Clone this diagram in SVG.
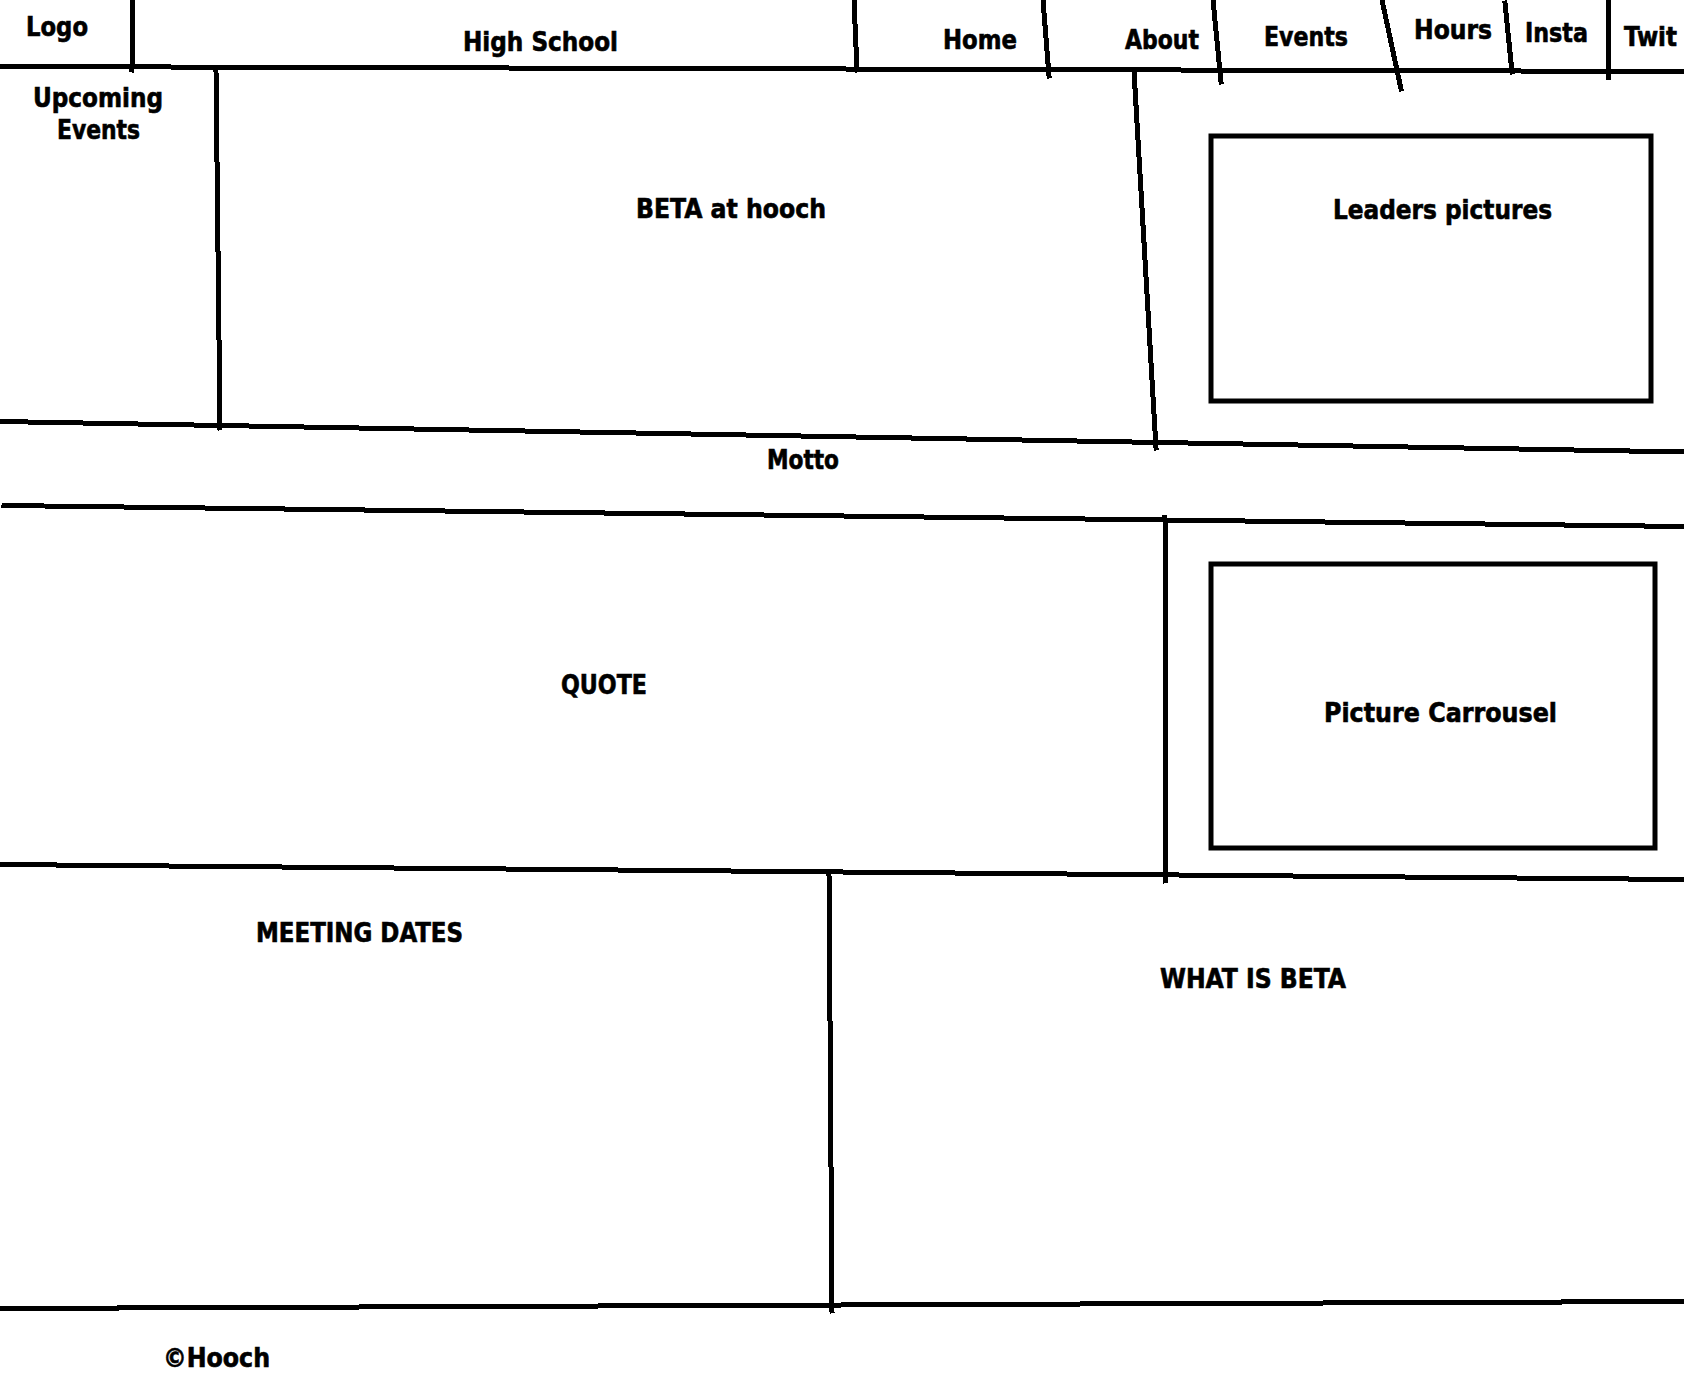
<svg xmlns="http://www.w3.org/2000/svg" width="1684" height="1394" viewBox="0 0 1684 1394">
  <style>
    .ln { stroke: #000; stroke-width: 5; fill: none; stroke-linecap: square; }
    .box { stroke: #000; stroke-width: 5; fill: none; }
    .lbl { font-family: "DejaVu Sans", "Liberation Sans", sans-serif; font-weight: bold; font-stretch: condensed; font-size: 27px; fill: #000; stroke: #000; stroke-width: 0.6; }
  </style>
  <rect x="0" y="0" width="1684" height="1394" fill="#fff"/>

  <!-- hand-drawn divider strokes of the page wireframe -->
  <g id="dividers" shape-rendering="crispEdges">
    <line class="ln" x1="0" y1="66.5" x2="1684" y2="71.5"/>
    <line class="ln" x1="0" y1="421.5" x2="1684" y2="452"/>
    <line class="ln" x1="4" y1="505.5" x2="1684" y2="526.5"/>
    <line class="ln" x1="0" y1="864.5" x2="1684" y2="879.5"/>
    <line class="ln" x1="0" y1="1308.5" x2="1684" y2="1301.5"/>

    <line class="ln" x1="133" y1="0" x2="132" y2="70"/>
    <line class="ln" x1="854" y1="0" x2="857" y2="70"/>
    <line class="ln" x1="1043" y1="0" x2="1049" y2="76"/>
    <line class="ln" x1="1213" y1="0" x2="1221" y2="82"/>
    <line class="ln" x1="1382" y1="0" x2="1401" y2="89"/>
    <line class="ln" x1="1505" y1="3" x2="1512" y2="72"/>
    <line class="ln" x1="1608" y1="0" x2="1608" y2="77"/>

    <line class="ln" x1="216" y1="71" x2="220" y2="428"/>
    <line class="ln" x1="1134" y1="71" x2="1156" y2="448"/>
    <line class="ln" x1="1165" y1="518" x2="1166" y2="881"/>
    <line class="ln" x1="829" y1="873" x2="832" y2="1311"/>
  </g>

  <!-- header bar -->
  <g id="logo"><text class="lbl" x="26" y="36" textLength="62" lengthAdjust="spacingAndGlyphs">Logo</text></g>
  <g id="high-school"><text class="lbl" x="463" y="51" textLength="155" lengthAdjust="spacingAndGlyphs">High School</text></g>
  <g id="nav-home"><text class="lbl" x="943" y="49" textLength="74" lengthAdjust="spacingAndGlyphs">Home</text></g>
  <g id="nav-about"><text class="lbl" x="1125" y="49" textLength="74" lengthAdjust="spacingAndGlyphs">About</text></g>
  <g id="nav-events"><text class="lbl" x="1264" y="46" textLength="84" lengthAdjust="spacingAndGlyphs">Events</text></g>
  <g id="nav-hours"><text class="lbl" x="1414" y="39" textLength="78" lengthAdjust="spacingAndGlyphs">Hours</text></g>
  <g id="nav-insta"><text class="lbl" x="1525" y="42" textLength="63" lengthAdjust="spacingAndGlyphs">Insta</text></g>
  <g id="nav-twit"><text class="lbl" x="1624" y="46" textLength="53" lengthAdjust="spacingAndGlyphs">Twit</text></g>

  <!-- upper band -->
  <g id="upcoming-events">
    <text class="lbl" x="33" y="107" textLength="130" lengthAdjust="spacingAndGlyphs">Upcoming</text>
    <text class="lbl" x="57" y="139" textLength="83" lengthAdjust="spacingAndGlyphs">Events</text>
  </g>
  <g id="beta-at-hooch"><text class="lbl" x="636" y="218" textLength="190" lengthAdjust="spacingAndGlyphs">BETA at hooch</text></g>
  <g id="leaders-pictures">
    <rect class="box" x="1211" y="136" width="440" height="265"/>
    <text class="lbl" x="1333" y="219" textLength="219" lengthAdjust="spacingAndGlyphs">Leaders pictures</text>
  </g>

  <g id="motto"><text class="lbl" x="767" y="469" textLength="72" lengthAdjust="spacingAndGlyphs">Motto</text></g>

  <!-- middle band -->
  <g id="quote"><text class="lbl" x="561" y="694" textLength="86" lengthAdjust="spacingAndGlyphs">QUOTE</text></g>
  <g id="picture-carrousel">
    <rect class="box" x="1211" y="564" width="444" height="284"/>
    <text class="lbl" x="1324" y="722" textLength="233" lengthAdjust="spacingAndGlyphs">Picture Carrousel</text>
  </g>

  <!-- lower band -->
  <g id="meeting-dates"><text class="lbl" x="256" y="942" textLength="207" lengthAdjust="spacingAndGlyphs">MEETING DATES</text></g>
  <g id="what-is-beta"><text class="lbl" x="1160" y="988" textLength="186" lengthAdjust="spacingAndGlyphs">WHAT IS BETA</text></g>

  <!-- footer -->
  <g id="footer"><text class="lbl" x="163" y="1367" textLength="107" lengthAdjust="spacingAndGlyphs">©Hooch</text></g>
</svg>
